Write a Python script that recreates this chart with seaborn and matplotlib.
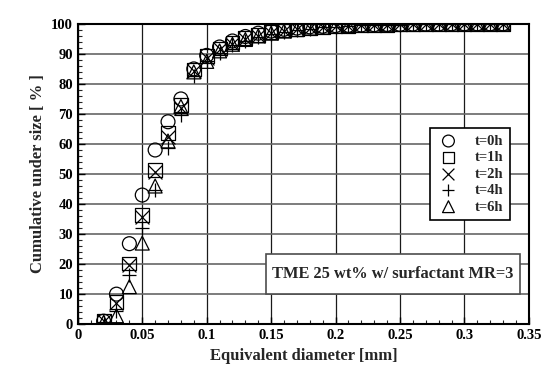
import matplotlib
matplotlib.use("Agg")
import matplotlib.pyplot as plt
from matplotlib.patches import Rectangle
import seaborn as sns
import pandas as pd
import numpy as np

sns.set_theme(style="white")
plt.rcParams["font.family"] = ["Liberation Serif", "DejaVu Serif"]
plt.rcParams["font.weight"] = "bold"
plt.rcParams["axes.labelweight"] = "bold"

# equivalent diameter [mm]
diam = [0.02, 0.03, 0.04, 0.05, 0.06, 0.07, 0.08, 0.09, 0.10, 0.11,
        0.12, 0.13, 0.14, 0.15, 0.16, 0.17, 0.18, 0.19, 0.20, 0.21,
        0.22, 0.23, 0.24, 0.25, 0.26, 0.27, 0.28, 0.29, 0.30, 0.31,
        0.32, 0.33]

t0h = [1.0, 10.0, 26.8, 43.0, 58.0, 67.4, 75.0, 85.0, 89.5, 92.3,
       94.3, 95.8, 96.9, 97.6, 98.2, 98.6, 99.0, 99.2, 99.4, 99.5,
       99.6, 99.7, 99.8, 99.8, 99.9, 99.9, 99.9, 100.0, 100.0, 100.0,
       100.0, 100.0]
t1h = [1.0, 7.3, 20.2, 36.5, 51.2, 63.6, 73.0, 84.8, 89.2, 91.8,
       93.8, 95.2, 96.4, 97.2, 97.8, 98.3, 98.7, 99.0, 99.2, 99.4,
       99.5, 99.6, 99.7, 99.8, 99.8, 99.9, 99.9, 99.9, 100.0, 100.0,
       100.0, 100.0]
t2h = [1.0, 7.0, 19.6, 35.8, 50.8, 62.2, 72.0, 84.3, 88.7, 91.5,
       93.4, 94.9, 96.1, 97.0, 97.7, 98.2, 98.6, 98.9, 99.2, 99.4,
       99.5, 99.6, 99.7, 99.8, 99.8, 99.9, 99.9, 99.9, 100.0, 100.0,
       100.0, 100.0]
t4h = [0.6, 4.5, 16.5, 32.0, 44.7, 58.5, 69.7, 82.5, 87.8, 90.3,
       92.8, 94.4, 95.7, 96.6, 97.4, 97.9, 98.4, 98.8, 99.1, 99.3,
       99.5, 99.6, 99.7, 99.7, 99.8, 99.9, 99.9, 99.9, 100.0, 100.0,
       100.0, 100.0]
t6h = [0.6, 2.8, 12.5, 27.0, 46.0, 61.0, 72.5, 84.0, 87.5, 91.0,
       93.2, 94.8, 96.0, 96.9, 97.6, 98.1, 98.6, 98.9, 99.2, 99.4,
       99.5, 99.6, 99.7, 99.8, 99.8, 99.9, 99.9, 99.9, 100.0, 100.0,
       100.0, 100.0]

labels = ["t=0h", "t=1h", "t=2h", "t=4h", "t=6h"]
series = [t0h, t1h, t2h, t4h, t6h]
markers = ["o", "s", "x", "+", "^"]

df = pd.concat([pd.DataFrame({"diam": diam, "cum": s, "time": lab})
                for s, lab in zip(series, labels)])

fig = plt.figure(figsize=(5.52, 3.85), dpi=100)
ax = fig.add_axes([0.141, 0.158, 0.817, 0.780])

for lab, m in zip(labels, markers):
    sub = df[df["time"] == lab]
    if m in ("x", "+"):
        kw = dict(color="black", linewidth=0.9)
    else:
        kw = dict(facecolor="none", edgecolor="black", linewidth=0.9)
    sns.scatterplot(data=sub, x="diam", y="cum", marker=m, s=100,
                    label=lab, ax=ax, zorder=3, **kw)

ax.set_xlim(0, 0.35)
ax.set_ylim(0, 100)
ax.set_xticks(np.arange(0, 0.351, 0.05))
ax.set_xticklabels(["0", "0.05", "0.1", "0.15", "0.2", "0.25", "0.3", "0.35"])
ax.set_yticks(np.arange(0, 101, 10))
ax.set_xticks(np.arange(0, 0.351, 0.01), minor=True)
ax.set_yticks(np.arange(0, 101, 2), minor=True)
ax.tick_params(which="major", direction="in", length=5, width=1,
               labelsize=10.5, colors="black", left=True, bottom=True)
ax.tick_params(which="minor", direction="in", length=3, width=0.8,
               left=True, bottom=True)
for lbl in ax.get_xticklabels() + ax.get_yticklabels():
    lbl.set_fontweight("bold")

ax.grid(True, which="major", axis="y", color="0.4", linewidth=1.2)
ax.grid(True, which="major", axis="x", color="0.1", linewidth=0.9)
ax.set_axisbelow(True)
for sp in ax.spines.values():
    sp.set_color("black")
    sp.set_linewidth(1.5)

ax.set_xlabel("Equivalent diameter [mm]", fontsize=12, fontweight="bold")
ax.set_ylabel("Cumulative under size [ % ]", fontsize=12, fontweight="bold")

leg = ax.legend(loc="upper right", bbox_to_anchor=(0.958, 0.653),
                borderaxespad=0, frameon=True, fancybox=False,
                edgecolor="black", prop={"weight": "bold", "size": 10.5},
                handletextpad=1.0, handlelength=1.6, labelspacing=0.22,
                borderpad=0.45, markerscale=0.85)
leg.get_frame().set_linewidth(1.2)
leg.get_frame().set_alpha(1)

# annotation box
ax.add_patch(Rectangle((0.146, 10), 0.197, 13.3, facecolor="white",
                       edgecolor="0.3", linewidth=1.2, zorder=4))
ax.text(0.2445, 16.7, "TME 25 wt% w/ surfactant MR=3", ha="center",
        va="center", fontsize=11.8, fontweight="bold", zorder=5)

fig.savefig("out.png", dpi=100)
